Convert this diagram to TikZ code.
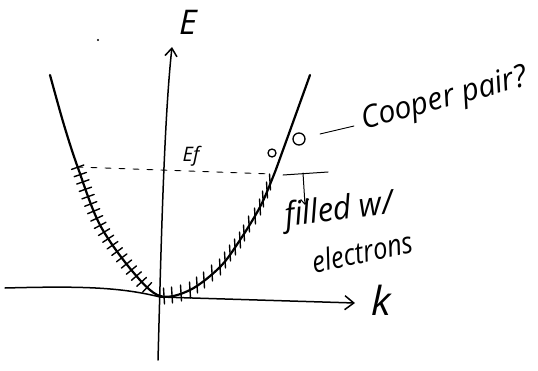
\documentclass[tikz,border=0pt]{standalone}
\usepackage{fontspec}
\setmainfont{Open Sans}
\usetikzlibrary{arrows.meta,decorations.markings}
\begin{document}
\begin{tikzpicture}[x=1pt,y=-1pt,line cap=round,line join=round,
  axisline/.style={line width=1.5pt},
  bandline/.style={line width=2.2pt},
  tickline/.style={line width=1.4pt},
  hand/.style={inner sep=0pt,font=\itshape\fontsize{#1}{#1}\selectfont},
  hand/.default=24,
  perpticks/.style={decoration={markings,
     mark=between positions 0.18 and 0.45 step 7.8pt with {\draw[tickline] (0,-6.5) -- (0,6.5);}},decorate}]
\useasboundingbox (0,0) rectangle (538,370);
% axes
\coordinate (kL) at (5,288);
\coordinate (kR) at (355,303);
\coordinate (eB) at (158,360);
\coordinate (eT) at (172,47);
\draw[axisline,-{Straight Barb[length=9pt,width=14pt]}] (kL) .. controls (80,286) and (120,287) .. (160,297) -- (kR);
\draw[axisline,-{Straight Barb[length=8pt,width=12pt]}] (eB) .. controls (161,250) and (164,120) .. (eT);
% labels
\node[hand=34] (E) at (188,22) {E};
\node[hand=40] (k) at (381,300) {k};
\fill (98,40) circle (1.1pt);
% band curve
\def\band{plot[smooth,tension=0.55] coordinates {(50,75) (64,125) (78,168) (100,225) (133,272) (160,296) (190,290) (220,267) (240,240) (260,207) (273,177) (283,150) (310,75)}}
\draw[bandline] \band;
\path[perpticks] \band;
\foreach \x/\y in {164/296,172/295,181/293,190/290,197/285,204/280,212/273,220/267,225/260,230/253,235/247,240/240,244/233,249/224,255/216,260/207,263/199,267/190,270/182}
  \draw[tickline] (\x+0.5,\y+8) -- (\x-0.5,\y-8);
% Fermi level
\coordinate (fL) at (77,167);
\coordinate (fR) at (272,174);
\draw[line width=0.9pt,dash pattern=on 6pt off 8pt] (fL) -- (fR);
\node[hand=20] (Ef) at (191,156) {Ef};
% Cooper pair
\node[draw,circle,line width=1.3pt,minimum size=8pt,inner sep=0pt] (c1) at (272,153) {};
\node[draw,circle,line width=1.3pt,minimum size=12pt,inner sep=0pt] (c2) at (299,139) {};
\node[hand=31,rotate=15,anchor=west] (cp) at (362,122) {\scalebox{0.97}[1]{Cooper pair?}};
\coordinate (lineA) at (320,134);
\coordinate (lineB) at (354,126);
\draw[line width=0.9pt] (lineA) -- (lineB);
% filled bracket
\coordinate (bL) at (283,175);
\coordinate (bR) at (328,172);
\coordinate (bT) at (303,173);
\coordinate (bD) at (305,205);
\draw[line width=1pt] (bL) -- (bR);
\draw[line width=1pt,-{Straight Barb[length=5pt,width=8pt]}] (bT) -- (bD);
\node[hand=33,rotate=7] (fw) at (339,211) {\scalebox{0.95}[1]{filled w/}};
\node[hand=30,rotate=12] (el) at (362,252) {\scalebox{0.85}[1]{electrons}};
\end{tikzpicture}
\end{document}
